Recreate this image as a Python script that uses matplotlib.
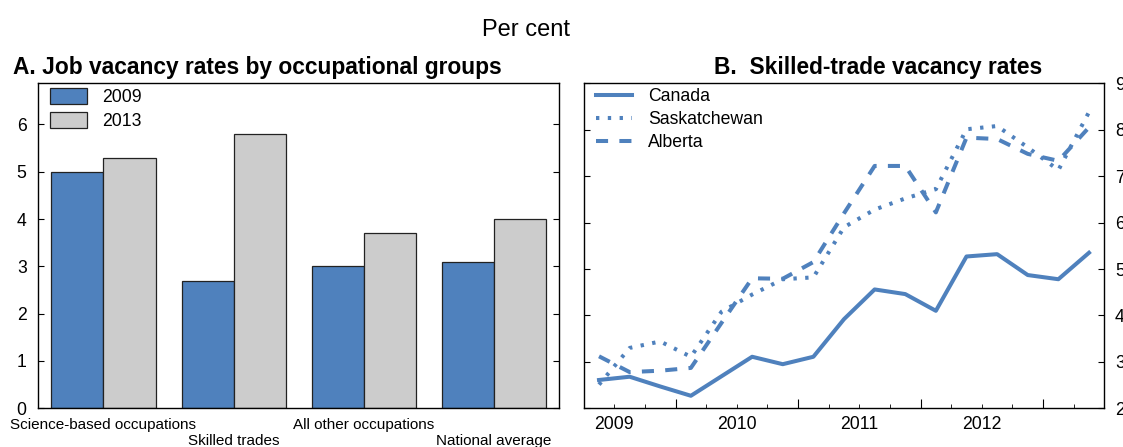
import numpy as np
import matplotlib
matplotlib.use("Agg")
import matplotlib.pyplot as plt
from matplotlib.ticker import FixedLocator, FuncFormatter
import matplotlib.transforms as mtransforms

plt.rcParams['font.family'] = ['Liberation Sans', 'DejaVu Sans']

# Panel A data: job vacancy rates by occupational group (per cent)
groups = ["Science-based occupations", "Skilled trades",
          "All other occupations", "National average"]
rate_2009 = [5.0, 2.7, 3.0, 3.1]
rate_2013 = [5.3, 5.8, 3.7, 4.0]

# Panel B data: skilled-trade vacancy rates, quarterly (per cent)
quarters = ["2009Q2", "2009Q3", "2009Q4",
            "2010Q1", "2010Q2", "2010Q3", "2010Q4",
            "2011Q1", "2011Q2", "2011Q3", "2011Q4",
            "2012Q1", "2012Q2", "2012Q3", "2012Q4",
            "2013Q1", "2013Q2"]
canada = [2.61, 2.68, 2.47, 2.27, 2.69, 3.11, 2.95, 3.11, 3.92,
          4.56, 4.46, 4.10, 5.27, 5.32, 4.87, 4.78, 5.35]
saskatchewan = [2.51, 3.30, 3.44, 3.11, 4.08, 4.45, 4.78, 4.82, 5.90,
                6.28, 6.52, 6.72, 8.01, 8.08, 7.62, 7.13, 8.38]
alberta = [3.12, 2.78, 2.81, 2.87, 3.84, 4.80, 4.79, 5.15, 6.20,
           7.22, 7.22, 6.22, 7.83, 7.80, 7.48, 7.33, 8.05]

blue = "#4F81BD"
grey = "#CCCCCC"

W, H = 1123, 447
fig = plt.figure(figsize=(W / 100, H / 100), dpi=100)

def box(x0, x1, ytop, ybot):
    return [x0 / W, 1 - ybot / H, (x1 - x0) / W, (ybot - ytop) / H]

axA = fig.add_axes(box(38.3, 559.3, 83.3, 408.3))
axB = fig.add_axes(box(583.7, 1104.3, 83.3, 408.3))

# ---- Panel A
x = np.arange(len(groups))
w = 0.4
axA.bar(x - w / 2, rate_2009, w, color=blue, edgecolor="#222222", linewidth=0.9, label="2009")
axA.bar(x + w / 2, rate_2013, w, color=grey, edgecolor="#222222", linewidth=0.9, label="2013")
axA.set_xlim(-0.5, len(groups) - 0.5)
axA.set_ylim(0, 6.87)
axA.set_yticks(range(0, 7))
axA.set_xticks([])
axA.tick_params(axis="y", direction="in", left=True, right=True, length=4,
                labelsize=12.7, pad=8.4)
trans = mtransforms.blended_transform_factory(axA.transData, axA.transAxes)
for i, name in enumerate(groups):
    yy = -0.031 if i % 2 == 0 else -0.08
    axA.text(i, yy, name, transform=trans, ha="center", va="top", fontsize=11)
axA.legend(loc="upper left", bbox_to_anchor=(11.7 / 521, 1 - 5.0 / 325),
           frameon=False, fontsize=12.7, handlelength=2.08, handleheight=1.0,
           labelspacing=0.33, handletextpad=0.85, borderpad=0, borderaxespad=0)

# ---- Panel B
qx = [int(q[:4]) + (int(q[-1]) - 0.5) / 4 for q in quarters]
axB.plot(qx, canada, color=blue, lw=2.9, label="Canada")
axB.plot(qx, saskatchewan, color=blue, lw=2.9, linestyle=(0, (0.83, 2.1)),
         dash_capstyle="butt", label="Saskatchewan")
axB.plot(qx, alberta, color=blue, lw=2.9, linestyle=(0, (3.0, 2.8)),
         dash_capstyle="butt", label="Alberta")
axB.set_xlim(2009.25, 2013.5)
axB.set_ylim(2, 9)
axB.set_yticks(range(2, 10))
axB.tick_params(axis="y", direction="in", left=True, right=True, length=4,
                labelleft=False, labelright=True, labelsize=12.7, pad=7.7)
axB.xaxis.set_major_locator(FixedLocator([2010, 2011, 2012, 2013]))
axB.xaxis.set_major_formatter(FuncFormatter(lambda v, p: ""))
axB.xaxis.set_minor_locator(FixedLocator(np.arange(2009.5, 2013.5, 0.25)))
axB.xaxis.set_minor_formatter(FuncFormatter(
    lambda v, p: str(int(v)) if abs(v % 1 - 0.5) < 1e-6 else ""))
axB.tick_params(axis="x", which="major", direction="in", length=6.5, bottom=True)
axB.tick_params(axis="x", which="minor", direction="in", length=3, labelsize=12.7, pad=5.5)
axB.legend(loc="upper left", bbox_to_anchor=(12 / 520.6, 1 - 5.0 / 325),
           frameon=False, fontsize=12.7, handlelength=2.08,
           labelspacing=0.33, handletextpad=0.9, borderpad=0, borderaxespad=0)

for ax in (axA, axB):
    for s in ax.spines.values():
        s.set_linewidth(1.0)

fig.text(526 / W, 1 - 36 / H, "Per cent", ha="center", va="baseline", fontsize=17)
fig.text(13 / W, 1 - 74 / H, "A. Job vacancy rates by occupational groups",
         ha="left", va="baseline", fontsize=16.4, fontweight="bold")
fig.text(714 / W, 1 - 74 / H, "B.  Skilled-trade vacancy rates",
         ha="left", va="baseline", fontsize=16.4, fontweight="bold")

fig.savefig("out.png", dpi=100)
